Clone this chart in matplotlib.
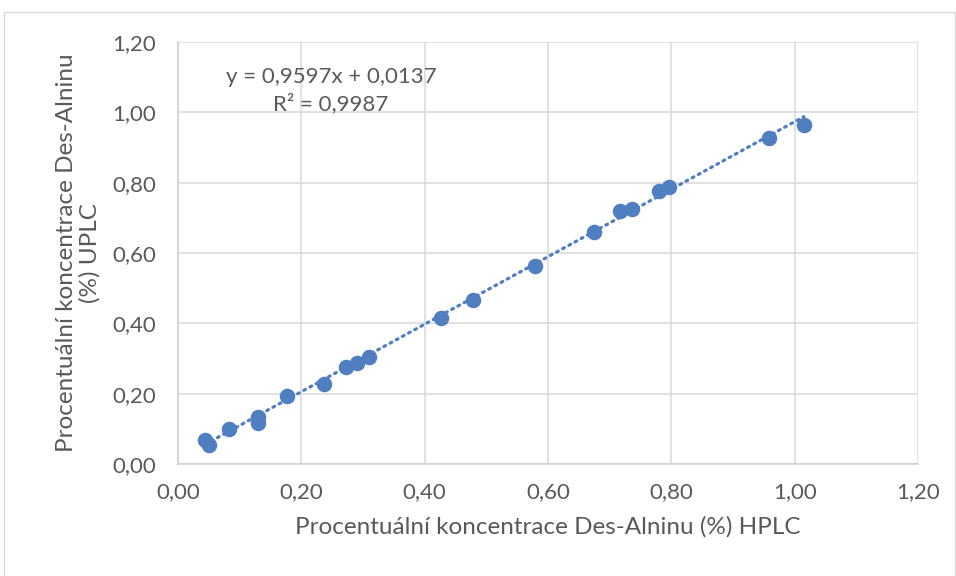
import matplotlib.pyplot as plt
from matplotlib.patches import Rectangle
import numpy as np

# HPLC vs UPLC results (% Des-Alnin)
hplc = [0.044, 0.051, 0.083, 0.129, 0.129, 0.177, 0.237, 0.273, 0.291, 0.310,
        0.427, 0.479, 0.579, 0.674, 0.716, 0.736, 0.780, 0.796, 0.958, 1.015]
uplc = [0.068, 0.054, 0.099, 0.133, 0.118, 0.193, 0.228, 0.276, 0.288, 0.305,
        0.416, 0.467, 0.564, 0.659, 0.719, 0.724, 0.776, 0.787, 0.927, 0.965]
slope = 0.9597
intercept = 0.0137
r2 = 0.9987
ticks = [0.0, 0.2, 0.4, 0.6, 0.8, 1.0, 1.2]

blue = '#4F7FC0'
grey_text = '#595959'
plt.rcParams['font.family'] = ['Lato', 'DejaVu Sans']

fig = plt.figure(figsize=(9.56, 5.76), dpi=100)
ax = fig.add_axes([0.1862, 0.1944, 0.774, 0.7326])

# chart border
fig.patches.append(Rectangle((0.004, -0.01), 0.995, 0.99, transform=fig.transFigure,
                             fill=False, edgecolor='#D9D9D9', linewidth=1))

ax.scatter(hplc, uplc, s=125, color=blue, zorder=3, linewidths=0)

xs = np.array([min(hplc), max(hplc)])
ax.plot(xs, slope * xs + intercept, linestyle=(0, (0.6, 1.6)), color=blue,
        linewidth=2.3, dash_capstyle='round', zorder=2)

ax.set_xlim(0, 1.2)
ax.set_ylim(0, 1.2)
ax.set_xticks(ticks)
ax.set_yticks(ticks)
ax.set_xticklabels([f'{t:.2f}'.replace('.', ',') for t in ticks])
ax.set_yticklabels([f'{t:.2f}'.replace('.', ',') for t in ticks])
ax.tick_params(length=0, labelsize=16, colors=grey_text)
ax.tick_params(axis='x', pad=13)
ax.tick_params(axis='y', pad=16)
ax.grid(True, color='#D9D9D9', linewidth=1.1)
ax.set_axisbelow(True)
for s in ['top', 'right']:
    ax.spines[s].set_visible(False)
for s in ['left', 'bottom']:
    ax.spines[s].set_color('#D0D0D0')
    ax.spines[s].set_linewidth(1.1)

ax.set_xlabel('Procentuální koncentrace Des-Alninu (%) HPLC', fontsize=17.5,
              color=grey_text, labelpad=10)
ax.set_ylabel('Procentuální koncentrace Des-Alninu\n(%) UPLC', fontsize=17.5,
              color=grey_text, labelpad=8, linespacing=1.15)

eq = f'y = {slope:.4f}x + {intercept:.4f}'.replace('.', ',')
r2_txt = f'R² = {r2:.4f}'.replace('.', ',')
ax.text(0.248, 1.102, eq, fontsize=16, color=grey_text, ha='center', va='center')
ax.text(0.248, 1.026, r2_txt, fontsize=16, color=grey_text, ha='center', va='center')

fig.savefig('out.png', dpi=100)
